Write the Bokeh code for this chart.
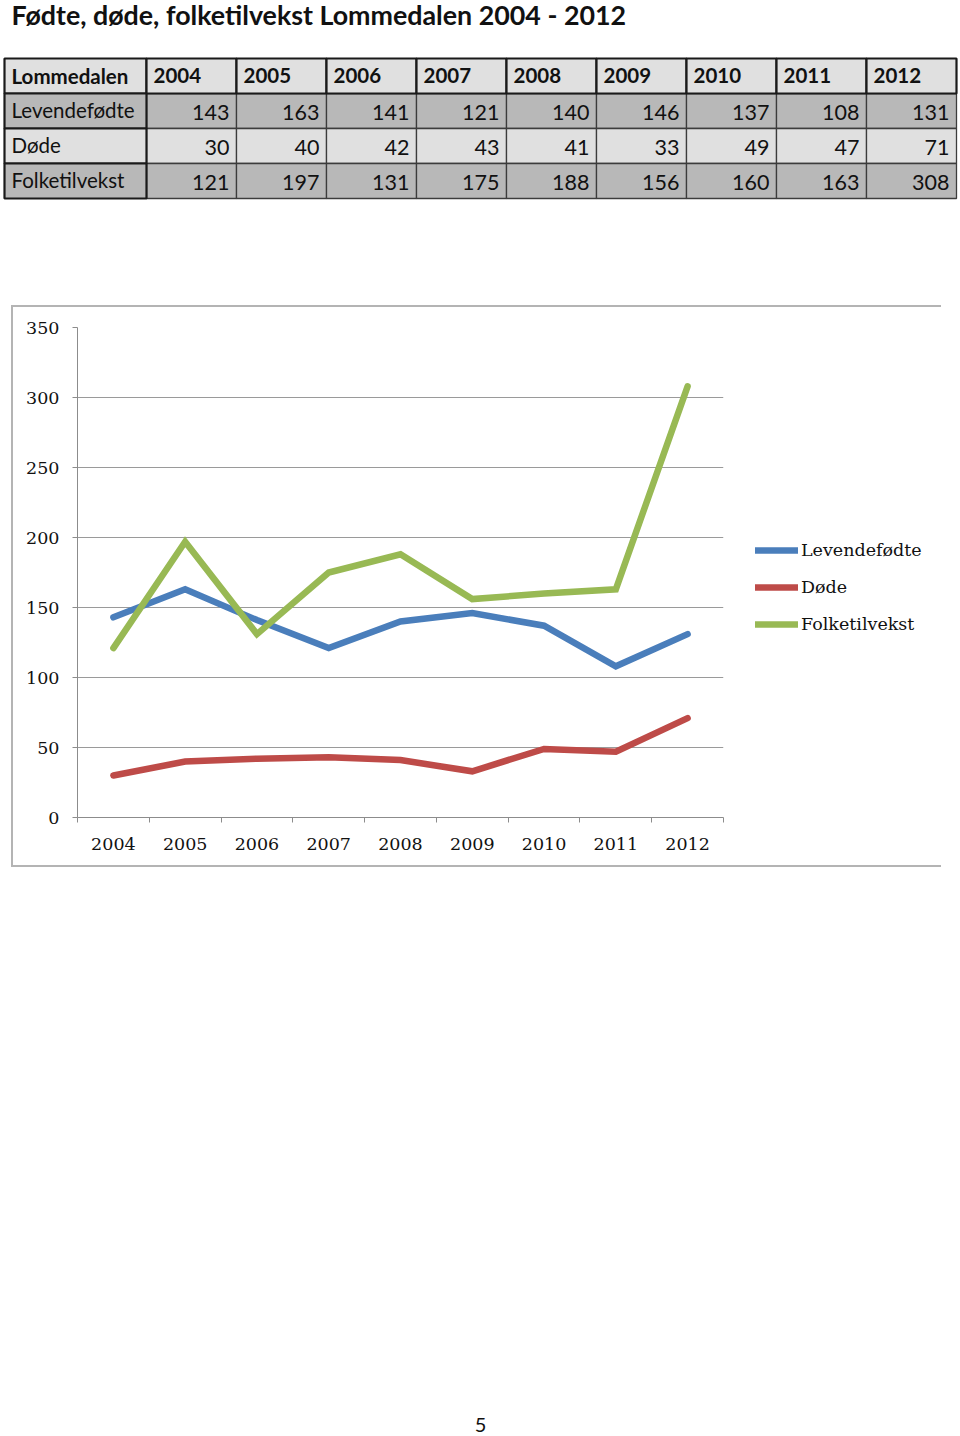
from bokeh.plotting import figure
from bokeh.models import (Range1d, FixedTicker, Legend, LegendItem, Spacer)
from bokeh.layouts import column, row
from bokeh.core.properties import value
from bokeh.embed import file_html
from bokeh.resources import INLINE

# ---------------- data ----------------
title = "Fødte, døde, folketilvekst Lommedalen 2004 - 2012"
place = "Lommedalen"
years = [2004, 2005, 2006, 2007, 2008, 2009, 2010, 2011, 2012]
levendefodte = [143, 163, 141, 121, 140, 146, 137, 108, 131]
dode = [30, 40, 42, 43, 41, 33, 49, 47, 71]
folketilvekst = [121, 197, 131, 175, 188, 156, 160, 163, 308]
series_names = ["Levendefødte", "Døde", "Folketilvekst"]
y_ticks = [0, 50, 100, 150, 200, 250, 300, 350]
page_number = "5"

series_values = [levendefodte, dode, folketilvekst]
series_colors = ["#4a7ebb", "#be4b48", "#98b954"]

SANS = "Lato"
SERIF = "DejaVu Serif"

# ---------------- title + table (page coordinates) ----------------
top = figure(width=960, height=305, x_range=Range1d(0, 960), y_range=Range1d(305, 0),
             x_axis_type=None, y_axis_type=None, toolbar_location=None,
             output_backend="svg", min_border=0)
top.grid.visible = False
top.outline_line_color = None

top.text(x=[11], y=[14], text=[title], text_font=value(SANS), text_font_style="bold",
         text_font_size=value("26.8px"), text_baseline="alphabetic", text_color="#111111")

row_tops = [58, 93, 128, 163]
row_h = 35
col_lefts = [146 + 90 * i for i in range(len(years))]
col_rights = [l + 90 for l in col_lefts]
light = "#e0e0e0"
dark = "#b8b8b8"
row_fill = [dark, light, dark]

# data cells
dl, dr, dt, db, dc = [], [], [], [], []
for r in range(3):
    for c in range(len(years)):
        dl.append(col_lefts[c]); dr.append(col_rights[c])
        dt.append(row_tops[r + 1]); db.append(row_tops[r + 1] + row_h)
        dc.append(row_fill[r])
top.quad(left=dl, right=dr, top=dt, bottom=db, fill_color=dc, line_color="#3c3c3c", line_width=1.3)

# header cells
hl = [4] + col_lefts
hr = [146] + col_rights
top.quad(left=hl, right=hr, top=[row_tops[0]] * len(hl), bottom=[row_tops[0] + row_h] * len(hl),
         fill_color=light, line_color="#1a1a1a", line_width=2.2)
# first column cells
top.quad(left=[4] * 3, right=[146] * 3, top=row_tops[1:], bottom=[t + row_h for t in row_tops[1:]],
         fill_color=row_fill, line_color="#1a1a1a", line_width=2.2)

# header text
top.text(x=[11] + [l + 7 for l in col_lefts], y=[75] * (len(years) + 1),
         text=[place] + [str(y) for y in years], text_font=value(SANS), text_font_style="bold",
         text_font_size=value("20.5px"), text_baseline="alphabetic", text_color="#111111")
# row labels
top.text(x=[11] * 3, y=[109, 144, 179], text=series_names, text_font=value(SANS),
         text_font_size=value("20.5px"), text_baseline="alphabetic", text_color="#111111")
# numbers
nx, ny, nt = [], [], []
for r, vals in enumerate(series_values):
    for c, v in enumerate(vals):
        nx.append(col_lefts[c] + 83); ny.append(112 + 35 * r); nt.append(str(v))
top.text(x=nx, y=ny, text=nt, text_font=value(SANS), text_font_size=value("21.5px"),
         text_align="right", text_baseline="alphabetic", text_color="#111111")

# ---------------- chart ----------------
GRAY = "#8c8c8c"
p = figure(frame_width=646, frame_height=490, min_border_left=64, min_border_right=216,
           min_border_top=20, min_border_bottom=48,
           x_range=Range1d(years[0] - 0.5, years[-1] + 0.5), y_range=Range1d(0, 350),
           toolbar_location=None, output_backend="svg")
p.outline_line_color = None
p.xgrid.visible = False
p.ygrid.grid_line_color = "#9a9a9a"
p.ygrid.grid_line_width = 1

p.yaxis.ticker = FixedTicker(ticks=y_ticks, minor_ticks=[])
p.xaxis.ticker = FixedTicker(ticks=years, minor_ticks=[y - 0.5 for y in years] + [years[-1] + 0.5])
for ax in (p.xaxis[0], p.yaxis[0]):
    ax.axis_line_color = GRAY
    ax.major_tick_line_color = GRAY
    ax.minor_tick_line_color = GRAY
    ax.major_label_text_font = SERIF
    ax.major_label_text_font_size = "17.5px"
    ax.major_label_text_color = "#111111"
p.yaxis.major_tick_out = 5
p.yaxis.major_tick_in = 0
p.yaxis.minor_tick_out = 0
p.yaxis.major_label_standoff = 13
p.xaxis.major_tick_out = 0
p.xaxis.major_tick_in = 0
p.xaxis.minor_tick_out = 5
p.xaxis.minor_tick_in = 0
p.xaxis.major_label_standoff = 15

items = []
for name, vals, col in zip(series_names, series_values, series_colors):
    r = p.line(years, vals, line_color=col, line_width=6.5, line_cap="round", line_join="miter")
    items.append(LegendItem(label=name, renderers=[r]))

legend = Legend(items=items, location=(32, 181), padding=0, margin=0, spacing=13,
                glyph_width=43, glyph_height=24, label_height=24, label_standoff=3,
                label_text_font=SERIF, label_text_font_size="17.5px", label_text_color="#111111",
                border_line_color=None, background_fill_alpha=0)
p.add_layout(legend, "right")

BOX = "#b4b4b4"
box = column(
    Spacer(width=930, height=2, background=BOX),
    row(Spacer(width=2, height=558, background=BOX), p, Spacer(width=2, height=558, background=BOX)),
    Spacer(width=930, height=2, background=BOX),
)

# ---------------- bottom / page number ----------------
bot = figure(width=960, height=567, x_range=Range1d(0, 960), y_range=Range1d(1434, 867),
             x_axis_type=None, y_axis_type=None, toolbar_location=None,
             output_backend="svg", min_border=0)
bot.grid.visible = False
bot.outline_line_color = None
bot.text(x=[480], y=[1424], text=[page_number], text_font=value(SANS), text_font_size=value("20px"),
         text_align="center", text_baseline="middle", text_color="#111111")

layout = column(top, row(Spacer(width=11, height=562), box), bot)

open("out.html", "w").write(file_html(layout, INLINE))
